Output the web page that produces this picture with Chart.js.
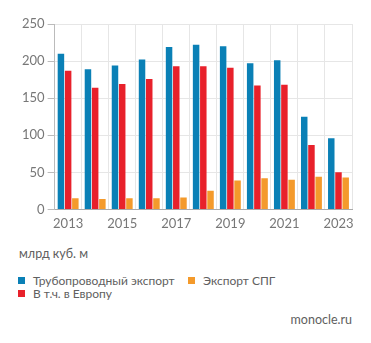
<!DOCTYPE html>
<html>
<head>
<meta charset="utf-8">
<script src="https://cdn.jsdelivr.net/npm/chart.js@4"></script>
<style>
  body { margin: 0; background: #fff; font-family: Lato, "Open Sans", sans-serif; color: #555; }
  #wrap { position: relative; width: 371px; height: 343px; }
  #box { position: absolute; left: 0; top: 0; width: 371px; height: 239px; }
  #unit { position: absolute; left: 19px; top: 246px; font-size: 12.5px; color: #606060; }
  #legend { position: absolute; left: 18px; top: 273px; width: 340px; font-size: 12px; color: #606060; }
  #legend .item { position: absolute; white-space: nowrap; }
  #legend .sq { display: inline-block; width: 7px; height: 7px; margin-right: 8px; vertical-align: 1px; }
  #src { position: absolute; right: 19px; top: 312px; font-size: 12.5px; color: #606060; }
</style>
</head>
<body>
<div id="wrap">
  <div id="box"><canvas id="chart"></canvas></div>
  <div id="unit">млрд куб. м</div>
  <div id="legend"></div>
  <div id="src">monocle.ru</div>
</div>
<script>
const years = ['2013','2014','2015','2016','2017','2018','2019','2020','2021','2022','2023'];
const pipeline = [210, 189, 194, 202, 219, 222, 220, 197, 201, 125, 96];
const europe = [187, 164, 169, 176, 193, 193, 191, 167, 168, 87, 50];
const lng = [15, 14, 15, 15, 16, 25, 39, 42, 40, 44, 43];
const names = ['Трубопроводный экспорт', 'В т.ч. в Европу', 'Экспорт СПГ'];
const colors = ['#0a80b6', '#e8212b', '#f49a2b'];

const ctx = document.getElementById('chart').getContext('2d');
const chart = new Chart(ctx, {
    type: 'bar',
    data: {
        labels: years,
        datasets: [
            { label: names[0], data: pipeline, backgroundColor: colors[0] },
            { label: names[1], data: europe, backgroundColor: colors[1] },
            { label: names[2], data: lng, backgroundColor: colors[2] }
        ]
    },
    options: {
        responsive: true,
        maintainAspectRatio: false,
        animation: false,
        layout: { padding: { top: 24, left: 19, right: 19, bottom: 0 } },
        plugins: { legend: { display: false }, tooltip: { enabled: false } },
        datasets: { bar: { categoryPercentage: 0.8, barPercentage: 0.9 } },
        scales: {
            x: {
                grid: { color: '#e6e6e6', drawTicks: false, offset: true },
                border: { color: '#aaa' },
                ticks: {
                    font: { size: 13, family: 'Lato' }, color: '#777', padding: 7,
                    maxRotation: 0, autoSkip: false,
                    callback: function(value, index) { return index % 2 === 0 ? years[index] : ''; }
                }
            },
            y: {
                min: 0, max: 250,
                grid: { color: '#e6e6e6', tickLength: 7, tickColor: '#bbb' },
                border: { color: '#bbb' },
                ticks: { stepSize: 50, font: { size: 13, family: 'Lato' }, color: '#777', padding: 3 }
            }
        }
    }
});

// legend: two columns, first column holds pipeline and Europe rows
const legend = document.getElementById('legend');
const spots = [[0, 0], [0, 13], [170, 0]];
names.forEach((n, i) => {
    const el = document.createElement('div');
    el.className = 'item';
    el.style.left = spots[i][0] + 'px';
    el.style.top = spots[i][1] + 'px';
    el.innerHTML = `<span class="sq" style="background:${colors[i]}"></span>${n}`;
    legend.appendChild(el);
});
</script>
</body>
</html>
